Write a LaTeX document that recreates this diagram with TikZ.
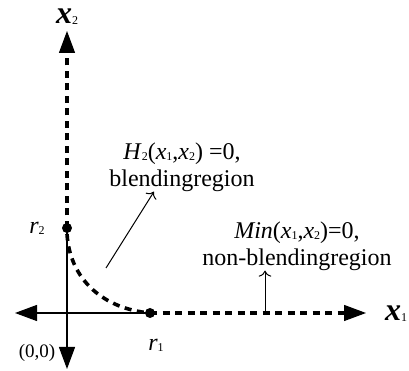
\documentclass[tikz,border=0pt]{standalone}
\usepackage{fontspec}
\setmainfont{Liberation Serif}
\usetikzlibrary{arrows.meta}
\newcommand{\lowidx}[1]{\raisebox{-1pt}{\fontsize{12}{12}\selectfont\normalfont #1}}
\newcommand{\vx}[1]{\textit{x}\lowidx{#1}}
\tikzset{
  axisdash/.style={line width=3.6pt,dash pattern=on 7pt off 5.5pt},
  axissolid/.style={line width=1.3pt},
  bigtip/.style={-{Triangle[length=22pt,width=16pt]}},
  dot/.style={circle,fill,inner sep=0pt,minimum size=10pt},
  axlbl/.style={font=\fontsize{32}{32}\selectfont\bfseries\itshape,inner sep=0pt},
  lbl/.style={font=\fontsize{24}{27}\selectfont,align=center,inner sep=0pt}
}
\begin{document}
\begin{tikzpicture}[x=1pt,y=1pt]
        \useasboundingbox (0,0) rectangle (409,371);
        % axes
        \coordinate (O) at (67,58);
        \coordinate (xl) at (15,58);
        \coordinate (xr) at (366,58);
        \coordinate (yb) at (67,2);
        \coordinate (yt) at (67,340);
        \node [dot] (r1) at (150,58) {};
        \node [dot] (r2) at (67,143) {};
        \draw [axissolid,bigtip] (r1.center) -- (xl);
        \draw [axissolid,bigtip] (r2.center) -- (yb);
        \draw [axisdash] (r1.center) -- (346,58);
        \draw [axissolid,bigtip] (346,58) -- (xr);
        \draw [axisdash] (r2.center) -- (67,320);
        \draw [axissolid,bigtip] (67,320) -- (yt);
        % curve
        \draw [axisdash] (67,137) .. controls (70,90) and (105,62) .. (r1.center);
        % labels
        \node [axlbl] (lx2) at (67,354) {x\lowidx{2}};
        \node [axlbl] (lx1) at (396,57) {x\lowidx{1}};
        \node [lbl] (lr1) at (156,26) {\textit{r}\lowidx{1}};
        \node [lbl] (lr2) at (37,143) {\textit{r}\lowidx{2}};
        \node [font=\fontsize{19}{19}\selectfont] (lo) at (37,18) {(0,0)};
        \node [lbl] (hlab) at (182,204) {\textit{H}\lowidx{2}(\vx{1},\vx{2}) =0,\\blendingregion};
        \node [lbl] (mlab) at (297,125) {\textit{Min}(\vx{1},\vx{2})=0,\\non-blendingregion};
        % pointers
        \coordinate (hp) at (106,103);
        \coordinate (mp) at (265,58);
        \draw [line width=1pt,-{To[length=6pt]}] (hp) -- (hlab.south -| 154,0);
        \draw [line width=1pt,-{To[length=6pt]}] (mp) -- (mlab.south -| mp);
\end{tikzpicture}
\end{document}
